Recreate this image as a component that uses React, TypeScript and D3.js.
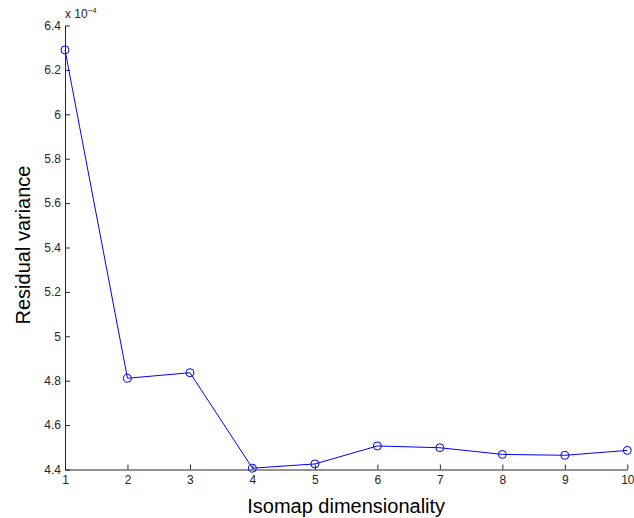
import { useEffect, useRef } from "react";
import * as d3 from "d3";

const dims = [1, 2, 3, 4, 5, 6, 7, 8, 9, 10];
const residual = [6.29, 4.811, 4.836, 4.406, 4.425, 4.506, 4.498, 4.468, 4.464, 4.486];
const yTicks = [4.4, 4.6, 4.8, 5, 5.2, 5.4, 5.6, 5.8, 6, 6.2, 6.4];

export default function App() {
  const ref = useRef<SVGSVGElement>(null);

  useEffect(() => {
    const width = 634;
    const height = 518;
    const left = 65;
    const right = 627.3;
    const top = 25.5;
    const bottom = 469.5;

    const svg = d3.select(ref.current);
    svg.selectAll("*").remove();

    const x = d3.scaleLinear().domain([1, 10]).range([left, right]);
    const y = d3.scaleLinear().domain([4.4, 6.4]).range([bottom, top]);

    const font = "Liberation Sans, Arial, Helvetica, sans-serif";

    // axes
    const xAxis = svg.append("g")
      .attr("transform", `translate(0,${bottom})`)
      .call(d3.axisBottom(x).tickValues(dims).tickFormat(d3.format("d")).tickSizeInner(-5).tickSizeOuter(0).tickPadding(6));

    const yAxis = svg.append("g")
      .attr("transform", `translate(${left},0)`)
      .call(d3.axisLeft(y).tickValues(yTicks).tickFormat(d => String(+(+d).toFixed(1))).tickSizeInner(-5).tickSizeOuter(0).tickPadding(4));

    [xAxis, yAxis].forEach(g => {
      g.selectAll("path").attr("stroke", "#262626").attr("stroke-width", 1);
      g.selectAll("line").attr("stroke", "#262626");
      g.selectAll("text").attr("fill", "#262626").style("font-family", font).style("font-size", "12px");
    });

    // exponent label
    const exp = svg.append("text")
      .attr("x", left)
      .attr("y", 18)
      .attr("fill", "#262626")
      .style("font-family", font)
      .style("font-size", "12px");
    exp.append("tspan").text("x 10");
    exp.append("tspan").attr("dy", -5).style("font-size", "8px").text("−4");

    // axis labels
    svg.append("text")
      .attr("x", (left + right) / 2)
      .attr("y", 513)
      .attr("text-anchor", "middle")
      .style("font-family", font)
      .style("font-size", "20px")
      .text("Isomap dimensionality");

    svg.append("text")
      .attr("transform", `translate(30,245) rotate(-90)`)
      .attr("text-anchor", "middle")
      .style("font-family", font)
      .style("font-size", "20px")
      .text("Residual variance");

    const pts = dims.map((d, i) => ({ x: d, y: residual[i] }));

    const line = d3.line<{ x: number; y: number }>()
      .x(d => x(d.x))
      .y(d => y(d.y));

    svg.append("path")
      .datum(pts)
      .attr("fill", "none")
      .attr("stroke", "#0000ff")
      .attr("stroke-width", 1)
      .attr("d", line);

    svg.selectAll(".pt")
      .data(pts)
      .enter()
      .append("circle")
      .attr("class", "pt")
      .attr("cx", d => x(d.x))
      .attr("cy", d => y(d.y))
      .attr("r", 4)
      .attr("fill", "none")
      .attr("stroke", "#0000ff")
      .attr("stroke-width", 1);

    svg.attr("width", width).attr("height", height);
  }, []);

  return (
    <svg ref={ref} width={634} height={518} style={{ position: "absolute", left: 0, top: 0, background: "#fff" }}></svg>
  );
}
